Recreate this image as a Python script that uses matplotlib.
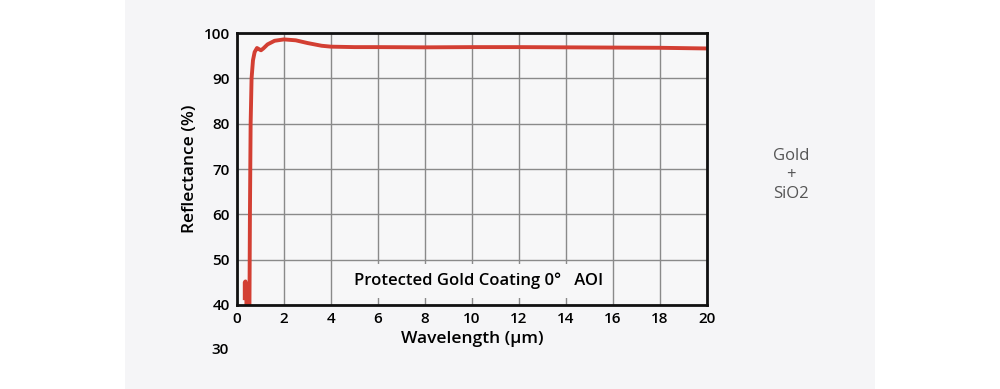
import matplotlib.pyplot as plt
from matplotlib.patches import Rectangle

# small low-wavelength hook near 0.35 um
hook_wl = [0.33, 0.33, 0.36, 0.40, 0.40]
hook_r = [41.5, 45.0, 45.2, 44.8, 40.0]

# main reflectance curve
wl = [0.53, 0.55, 0.58, 0.62, 0.68, 0.75, 0.85, 0.95, 1.02, 1.12, 1.3, 1.6, 2.0,
      2.5, 3.0, 3.6, 4.0, 5, 6, 8, 10, 12, 14, 16, 18, 20]
refl = [40.0, 60.0, 80.0, 90.0, 94.0, 95.8, 96.7, 96.4, 96.2, 96.6, 97.5, 98.3, 98.6,
        98.4, 97.8, 97.2, 97.0, 96.9, 96.9, 96.85, 96.9, 96.9, 96.85, 96.8, 96.75, 96.6]

xticks = list(range(0, 21, 2))
yticks = list(range(40, 101, 10))

fam = ['Open Sans', 'DejaVu Sans']
red = '#d33f33'

fig = plt.figure(figsize=(10, 3.89), dpi=100)
fig.patch.set_facecolor('white')
fig.patches.append(Rectangle((0.125, 0), 0.75, 1, transform=fig.transFigure,
                             facecolor='#f5f5f7', edgecolor='none', zorder=-10))

ax = fig.add_axes([0.237, 0.216, 0.470, 0.699])
ax.set_facecolor('#f7f7f8')
ax.plot(hook_wl, hook_r, color=red, lw=2.8, solid_joinstyle='round', zorder=3)
ax.plot(wl, refl, color=red, lw=2.8, solid_joinstyle='round', zorder=3)

ax.set_xlim(0, 20)
ax.set_ylim(40, 100)
ax.set_xticks(xticks)
ax.set_yticks(yticks)
ax.grid(True, color='#8a8a8a', lw=1.0, zorder=1)
ax.tick_params(length=0, pad=5, labelsize=11)
for lbl in ax.get_xticklabels() + ax.get_yticklabels():
    lbl.set_family(fam)
    lbl.set_fontweight('semibold')
for s in ax.spines.values():
    s.set_linewidth(2.0)
    s.set_color('#111111')
    s.set_zorder(4)

ax.text(-0.35, 30, '30', ha='right', va='center', fontsize=11, family=fam,
        fontweight='semibold', clip_on=False)

ax.set_ylabel('Reflectance (%)', fontsize=12.5, family=fam, fontweight='semibold', labelpad=4)
ax.set_xlabel('Wavelength (μm)', fontsize=12.5, family=fam, fontweight='semibold', labelpad=4)

ax.text(10.3, 45.3, 'Protected Gold Coating 0°   AOI', ha='center', va='center',
        fontsize=12, family=fam, fontweight='semibold', zorder=2,
        bbox=dict(facecolor='#f7f7f8', edgecolor='none', pad=6))

fig.text(0.791, 0.55, 'Gold\n+\nSiO2', ha='center', va='center', fontsize=12,
         family=fam, color='#555555', linespacing=1.25)

fig.savefig('out.png', dpi=100)
